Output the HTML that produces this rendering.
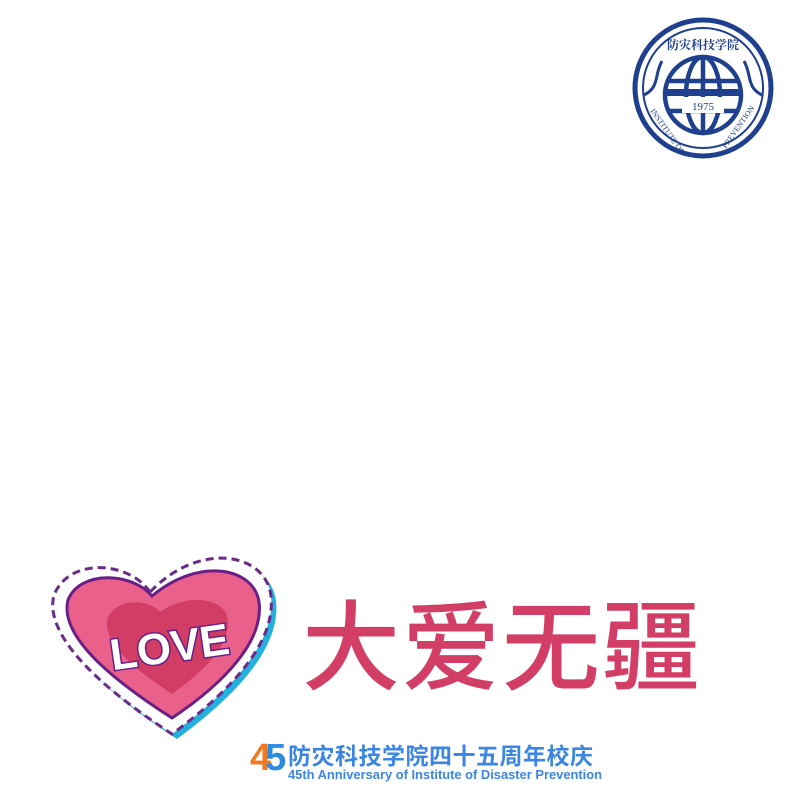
<!DOCTYPE html>
<html><head><meta charset="utf-8"><style>
html,body{margin:0;padding:0;background:#fff;width:800px;height:800px;overflow:hidden}
.abs{position:absolute}
</style></head><body>
<div class="abs" style="left:0;top:0;width:800px;height:800px">

<svg class="abs" style="left:630px;top:15px" width="150" height="150" viewBox="0 0 150 150">
 <circle cx="73" cy="73" r="68" fill="#fff" stroke="#1f3f8f" stroke-width="5"/>
 <circle cx="73" cy="73" r="60" fill="none" stroke="#1f3f8f" stroke-width="2"/>
 <text x="73" y="34" text-anchor="middle" font-family="'Noto Serif CJK SC',serif" font-size="12" font-weight="bold" fill="#1f3f8f">防灾科技学院</text>
 <g fill="none" stroke="#1f3f8f" stroke-width="4.5">
  <circle cx="73" cy="80" r="38"/>
  <ellipse cx="73" cy="80" rx="17" ry="38"/>
  <line x1="73" y1="42" x2="73" y2="118"/>
  <line x1="38" y1="66" x2="108" y2="66"/>
  <line x1="38" y1="96" x2="108" y2="96"/>
 </g>
 <rect x="36" y="74" width="74" height="7" fill="#1f3f8f"/>
 <rect x="52" y="82" width="42" height="16" fill="#fff"/>
 <text x="73" y="95" text-anchor="middle" font-family="'Liberation Serif',serif" font-size="11" fill="#1f3f8f">1975</text>
 <path d="M32,46 C24,60 30,72 14,80 M114,46 C122,60 116,72 132,80" stroke="#1f3f8f" stroke-width="3" fill="none"/>
 <text x="20" y="96" font-family="'Liberation Serif',serif" font-size="8" fill="#1f3f8f" transform="rotate(55 20 96)">INSTITUTE OF</text>
 <text x="96" y="134" font-family="'Liberation Serif',serif" font-size="8" fill="#1f3f8f" transform="rotate(-55 96 134)">PREVENTION</text>
</svg>

<svg class="abs" style="left:0;top:0" width="800" height="800" viewBox="0 0 800 800">
 <path d="M150,592 C130,562 70,556 54,595 C44,632 92,682 172,734 C232,690 276,642 271,596 C266,553 200,540 150,592 Z" fill="#22b0dc" transform="translate(5,5)"/>
 <path d="M150,592 C130,562 70,556 54,595 C44,632 92,682 172,734 C232,690 276,642 271,596 C266,553 200,540 150,592 Z" fill="#fff" stroke="#6a2a8a" stroke-width="3" stroke-dasharray="8 5"/>
 <path d="M152,596 C132,572 80,570 68,600 C60,632 100,672 172,718 C226,682 264,640 259,602 C254,568 200,556 152,596 Z" fill="#e9608a" stroke="#6a1f86" stroke-width="3"/>
 <path d="M160,612 C146,596 110,600 107,622 C106,644 132,668 172,694 C206,670 230,644 228,620 C226,598 188,592 160,612 Z" fill="#d23d65"/>
 <text x="170" y="662" text-anchor="middle" font-family="'Liberation Sans',sans-serif" font-size="44" font-weight="bold" fill="#fff" stroke="#6a1f86" stroke-width="3" paint-order="stroke" transform="rotate(-8 170 650)">LOVE</text>
</svg>

<div class="abs" style="left:302px;top:588px;font-family:'Liberation Sans','Noto Sans CJK SC',sans-serif;font-weight:500;font-size:98px;line-height:120px;color:#d33e66;letter-spacing:2px;white-space:nowrap">大爱无疆</div>

<div class="abs" style="left:250px;top:736px;font-family:'Liberation Sans',sans-serif;font-weight:bold;font-size:38px;line-height:44px;white-space:nowrap"><span style="color:#f07a22">4</span><span style="color:#2e8ce0;margin-left:-6px">5</span></div>
<div class="abs" style="left:288px;top:740px;font-family:'Noto Sans CJK SC',sans-serif;font-weight:bold;font-size:23px;line-height:28px;color:#3a86e2;letter-spacing:0.5px;white-space:nowrap">防灾科技学院四十五周年校庆</div>
<div class="abs" style="left:288px;top:767px;font-family:'Liberation Sans',sans-serif;font-weight:bold;font-size:12.9px;line-height:15px;color:#3a86e2;white-space:nowrap">45th Anniversary of Institute of Disaster Prevention</div>
</div>
</body></html>
